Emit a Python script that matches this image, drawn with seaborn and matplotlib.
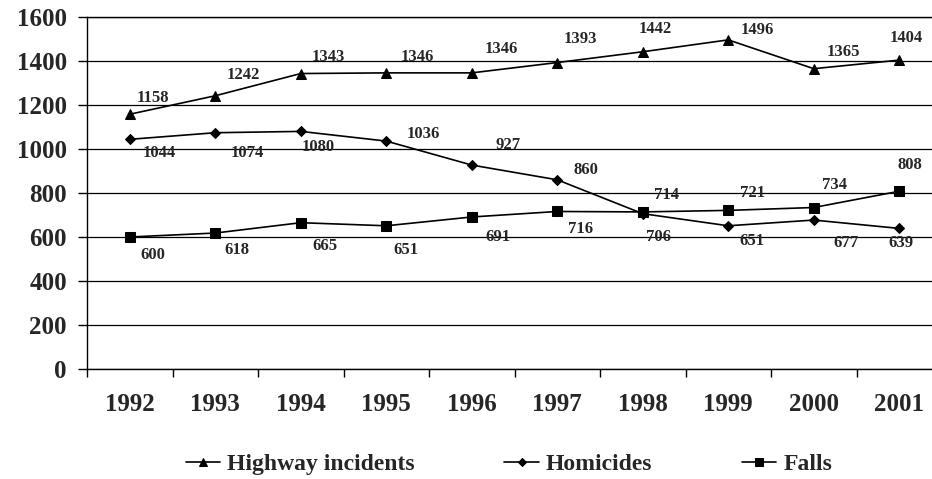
import numpy as np
import pandas as pd
import matplotlib
matplotlib.use('Agg')
import matplotlib.pyplot as plt
import seaborn as sns

# values
years = ['1992', '1993', '1994', '1995', '1996', '1997', '1998', '1999', '2000', '2001']
highway = [1158, 1242, 1343, 1346, 1346, 1393, 1442, 1496, 1365, 1404]
homicides = [1044, 1074, 1080, 1036, 927, 860, 706, 651, 677, 639]
falls = [600, 618, 665, 651, 691, 716, 714, 721, 734, 808]
y_ticks = [0, 200, 400, 600, 800, 1000, 1200, 1400, 1600]

# data label offsets (pixels) as placed in the original
hw_off = [(23, 16), (28, 21), (28, 17), (31, 16), (30, 24), (23, 24), (12, 23), (29, 10), (30, 17), (7, 22)]
hom_off = [(29, -14), (32, -20), (17, -16), (37, 7), (36, 20), (29, 10), (16, -23), (24, -15), (32, -23), (2, -15)]
falls_off = [(23, -18), (22, -17), (24, -23), (20, -24), (26, -20), (23, -18), (24, 17), (24, 17), (21, 23), (11, 26)]

sns.set_style('white')
plt.rcParams['font.family'] = ['Liberation Serif', 'DejaVu Serif']
plt.rcParams['font.weight'] = 'bold'

fig = plt.figure(figsize=(9.32, 4.79), dpi=100)
ax = fig.add_axes([87 / 932, 110 / 479, 855 / 932, 352 / 479])

xpos = np.arange(len(years))
series = [
    ('Highway incidents', highway, '^', 7, hw_off),
    ('Homicides', homicides, 'D', 5, hom_off),
    ('Falls', falls, 's', 7, falls_off),
]

for name, vals, mk, ms, offs in series:
    df = pd.DataFrame({'x': xpos, 'y': vals})
    sns.lineplot(data=df, x='x', y='y', ax=ax, color='black', lw=1.2,
                 marker=mk, markersize=ms, markeredgecolor='black',
                 markerfacecolor='black', label=name, zorder=3)
    for xi, v, (dx, dy) in zip(xpos, vals, offs):
        ax.annotate(str(v), (xi, v), xytext=(dx, dy), textcoords='offset pixels',
                    ha='center', va='center', fontsize=12, fontweight='bold')

ax.set_xlim(-0.5, len(years) - 0.5)
ax.set_ylim(0, 1600)
ax.set_yticks(y_ticks)
ax.set_yticklabels([str(t) for t in y_ticks], fontsize=18, fontweight='bold')
ax.set_xticks(xpos)
ax.set_xticklabels(years, fontsize=18, fontweight='bold')
ax.set_xticks(np.arange(len(years) + 1) - 0.5, minor=True)
ax.tick_params(axis='x', which='both', bottom=True)
ax.tick_params(axis='x', which='major', length=0, pad=17)
ax.tick_params(axis='x', which='minor', length=6, width=1, color='black', direction='out')
ax.tick_params(axis='y', left=True, length=6.5, width=1, color='black', direction='out', pad=8)
ax.set_xlabel('')
ax.set_ylabel('')

ax.grid(axis='y', color='black', lw=0.9)
ax.set_axisbelow(True)
for side in ['left', 'bottom', 'top']:
    ax.spines[side].set_color('black')
    ax.spines[side].set_linewidth(1)
ax.spines['right'].set_visible(False)

ax.legend(loc='center', bbox_to_anchor=(509 / 932, 15 / 479), bbox_transform=fig.transFigure,
          ncol=3, frameon=False, prop={'size': 17, 'weight': 'bold'}, markerscale=0.75,
          handlelength=1.45, handletextpad=0.3, columnspacing=3.8)

fig.savefig('out.png', dpi=100)
